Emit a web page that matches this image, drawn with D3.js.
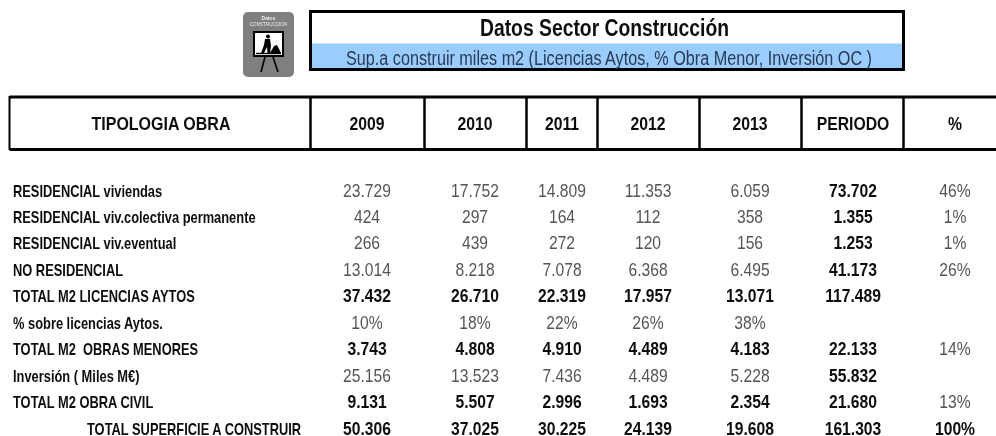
<!DOCTYPE html>
<html lang="es">
<head>
<meta charset="utf-8">
<title>Datos Sector Construcción</title>
<style>
html, body { margin: 0; padding: 0; background: #fff; }
svg { display: block; }
text { font-family: "Liberation Sans", Arial, sans-serif; white-space: pre; }
</style>
</head>
<body>
<div id="chart"></div>
<script src="https://d3js.org/d3.v7.min.js"></script>
<script>
var columns = ["2009", "2010", "2011", "2012", "2013", "PERIODO", "%"];

var labels = [
	"RESIDENCIAL viviendas",
	"RESIDENCIAL viv.colectiva permanente",
	"RESIDENCIAL viv.eventual",
	"NO RESIDENCIAL",
	"TOTAL M2 LICENCIAS AYTOS",
	"% sobre licencias Aytos.",
	"TOTAL M2  OBRAS MENORES",
	"Inversión ( Miles M€)",
	"TOTAL M2 OBRA CIVIL",
	"TOTAL SUPERFICIE A CONSTRUIR"
];

// los valores tal como salen en la tabla (punto = miles)
var v2009 = ["23.729", "424", "266", "13.014", "37.432", "10%", "3.743", "25.156", "9.131", "50.306"];
var v2010 = ["17.752", "297", "439", "8.218", "26.710", "18%", "4.808", "13.523", "5.507", "37.025"];
var v2011 = ["14.809", "164", "272", "7.078", "22.319", "22%", "4.910", "7.436", "2.996", "30.225"];
var v2012 = ["11.353", "112", "120", "6.368", "17.957", "26%", "4.489", "4.489", "1.693", "24.139"];
var v2013 = ["6.059", "358", "156", "6.495", "13.071", "38%", "4.183", "5.228", "2.354", "19.608"];
var vPeriodo = ["73.702", "1.355", "1.253", "41.173", "117.489", "", "22.133", "55.832", "21.680", "161.303"];
var vPct = ["46%", "1%", "1%", "26%", "", "", "14%", "", "13%", "100%"];

var series = [v2009, v2010, v2011, v2012, v2013, vPeriodo, vPct];

var boldRows = ["TOTAL M2 LICENCIAS AYTOS", "TOTAL M2  OBRAS MENORES", "TOTAL M2 OBRA CIVIL", "TOTAL SUPERFICIE A CONSTRUIR"];

var width = 996, height = 436;

var svg = d3.select("#chart").append("svg")
	.attr("width", width)
	.attr("height", height);

var defs = svg.append("defs");
defs.append("filter").attr("id", "soft")
	.append("feGaussianBlur").attr("stdDeviation", 0.4);

var root = svg.append("g").attr("filter", "url(#soft)");

var y = d3.scalePoint().domain(labels).range([196.5, 434.5]);
var x = d3.scaleOrdinal().domain(columns).range([367, 475, 562, 648, 750, 853, 955]);

// la imagen original esta comprimida a lo ancho, por eso el scale
function squeeze(px, py, sx) {
	return "translate(" + px + "," + py + ") scale(" + sx + ",1)";
}

// ---- caja del titulo
root.append("rect")
	.attr("x", 311).attr("y", 43.5).attr("width", 592).attr("height", 25)
	.attr("fill", "#99ccff");
root.append("rect")
	.attr("x", 310.5).attr("y", 11.5).attr("width", 593).attr("height", 58)
	.attr("fill", "none").attr("stroke", "#000").attr("stroke-width", 3);
root.append("text")
	.attr("transform", squeeze(604.5, 36, 1))
	.attr("text-anchor", "middle")
	.attr("font-size", 23.5).attr("font-weight", "bold").attr("fill", "#111")
	.attr("textLength", 249).attr("lengthAdjust", "spacingAndGlyphs")
	.text("Datos Sector Construcción");
root.append("text")
	.attr("transform", squeeze(609, 64.5, 1))
	.attr("text-anchor", "middle")
	.attr("font-size", 19.5).attr("fill", "#2b3a52")
	.attr("textLength", 526).attr("lengthAdjust", "spacingAndGlyphs")
	.text("Sup.a construir miles m2 (Licencias Aytos, % Obra Menor, Inversión OC )");

// ---- icono
var icon = root.append("g");
icon.append("rect")
	.attr("x", 243).attr("y", 12).attr("width", 51).attr("height", 65).attr("rx", 5)
	.attr("fill", "#7f7f7f");
icon.append("text").attr("x", 268.5).attr("y", 19.5).attr("text-anchor", "middle")
	.attr("font-size", 5).attr("font-weight", "bold").attr("fill", "#eee").text("Datos");
icon.append("text").attr("x", 268.5).attr("y", 25.5).attr("text-anchor", "middle")
	.attr("font-size", 4.6).attr("fill", "#eee").text("CONSTRUCCION");
icon.append("rect")
	.attr("x", 254).attr("y", 32).attr("width", 29).attr("height", 24)
	.attr("fill", "#fff").attr("stroke", "#000").attr("stroke-width", 2);
icon.append("path").attr("d", "M265 57L261 72M273 57L278 72")
	.attr("stroke", "#000").attr("stroke-width", 1.6).attr("fill", "none");
icon.append("circle").attr("cx", 268).attr("cy", 36.5).attr("r", 2).attr("fill", "#000");
icon.append("path").attr("d", "M265 39L270 39L271 46L270 53L267.5 53L267 47L264 53L261 53L264 45Z").attr("fill", "#000");
icon.append("path").attr("d", "M270 53L274 46L277 45L281 53Z").attr("fill", "#000");
icon.append("path").attr("d", "M256 53.5H281").attr("stroke", "#000").attr("stroke-width", 1.4);

// ---- cabecera
var header = [9, 310, 424, 526, 597, 699, 801, 903];
root.append("path")
	.attr("d", "M9.5 97H996M9.5 149.5H996")
	.attr("stroke", "#000").attr("stroke-width", 3).attr("fill", "none");
root.selectAll(".sep").data(header).enter().append("line")
	.attr("class", "sep")
	.attr("x1", function(d) { return d + 0.5; }).attr("x2", function(d) { return d + 0.5; })
	.attr("y1", 96).attr("y2", 150)
	.attr("stroke", "#000").attr("stroke-width", function(d, i) { return i == 0 ? 2 : 2.5; });

root.append("text")
	.attr("transform", squeeze(161, 130, 1))
	.attr("text-anchor", "middle")
	.attr("font-size", 19).attr("font-weight", "bold").attr("fill", "#111")
	.attr("textLength", 139).attr("lengthAdjust", "spacingAndGlyphs")
	.text("TIPOLOGIA OBRA");
root.selectAll(".col").data(columns).enter().append("text")
	.attr("class", "col")
	.attr("transform", function(d) { return squeeze(x(d), 130, 0.83); })
	.attr("text-anchor", "middle")
	.attr("font-size", 19).attr("font-weight", "bold").attr("fill", "#111")
	.text(function(d) { return d; });

// ---- filas
root.selectAll(".label").data(labels).enter().append("text")
	.attr("class", "label")
	.attr("transform", function(d, i) { return squeeze(i == 9 ? 87 : 13, y(d), 0.82); })
	.attr("font-size", 15.7).attr("font-weight", "bold").attr("fill", "#111")
	.text(function(d) { return d; });

columns.forEach(function(col, c) {
	root.selectAll(".c" + c).data(series[c]).enter().append("text")
		.attr("class", "c" + c)
		.attr("transform", function(d, i) { return squeeze(x(col), y(labels[i]), 0.88); })
		.attr("text-anchor", "middle")
		.attr("font-size", 17.8)
		.attr("font-weight", function(d, i) {
			var isBold = boldRows.indexOf(labels[i]) >= 0;
			if (col == "PERIODO") isBold = true;
			if (col == "%") isBold = i == 9;
			return isBold ? "bold" : "normal";
		})
		.attr("fill", function(d, i) {
			var isBold = boldRows.indexOf(labels[i]) >= 0 || col == "PERIODO";
			if (col == "%") isBold = i == 9;
			return isBold ? "#111" : "#555";
		})
		.text(function(d) { return d; });
});
</script>
</body>
</html>
